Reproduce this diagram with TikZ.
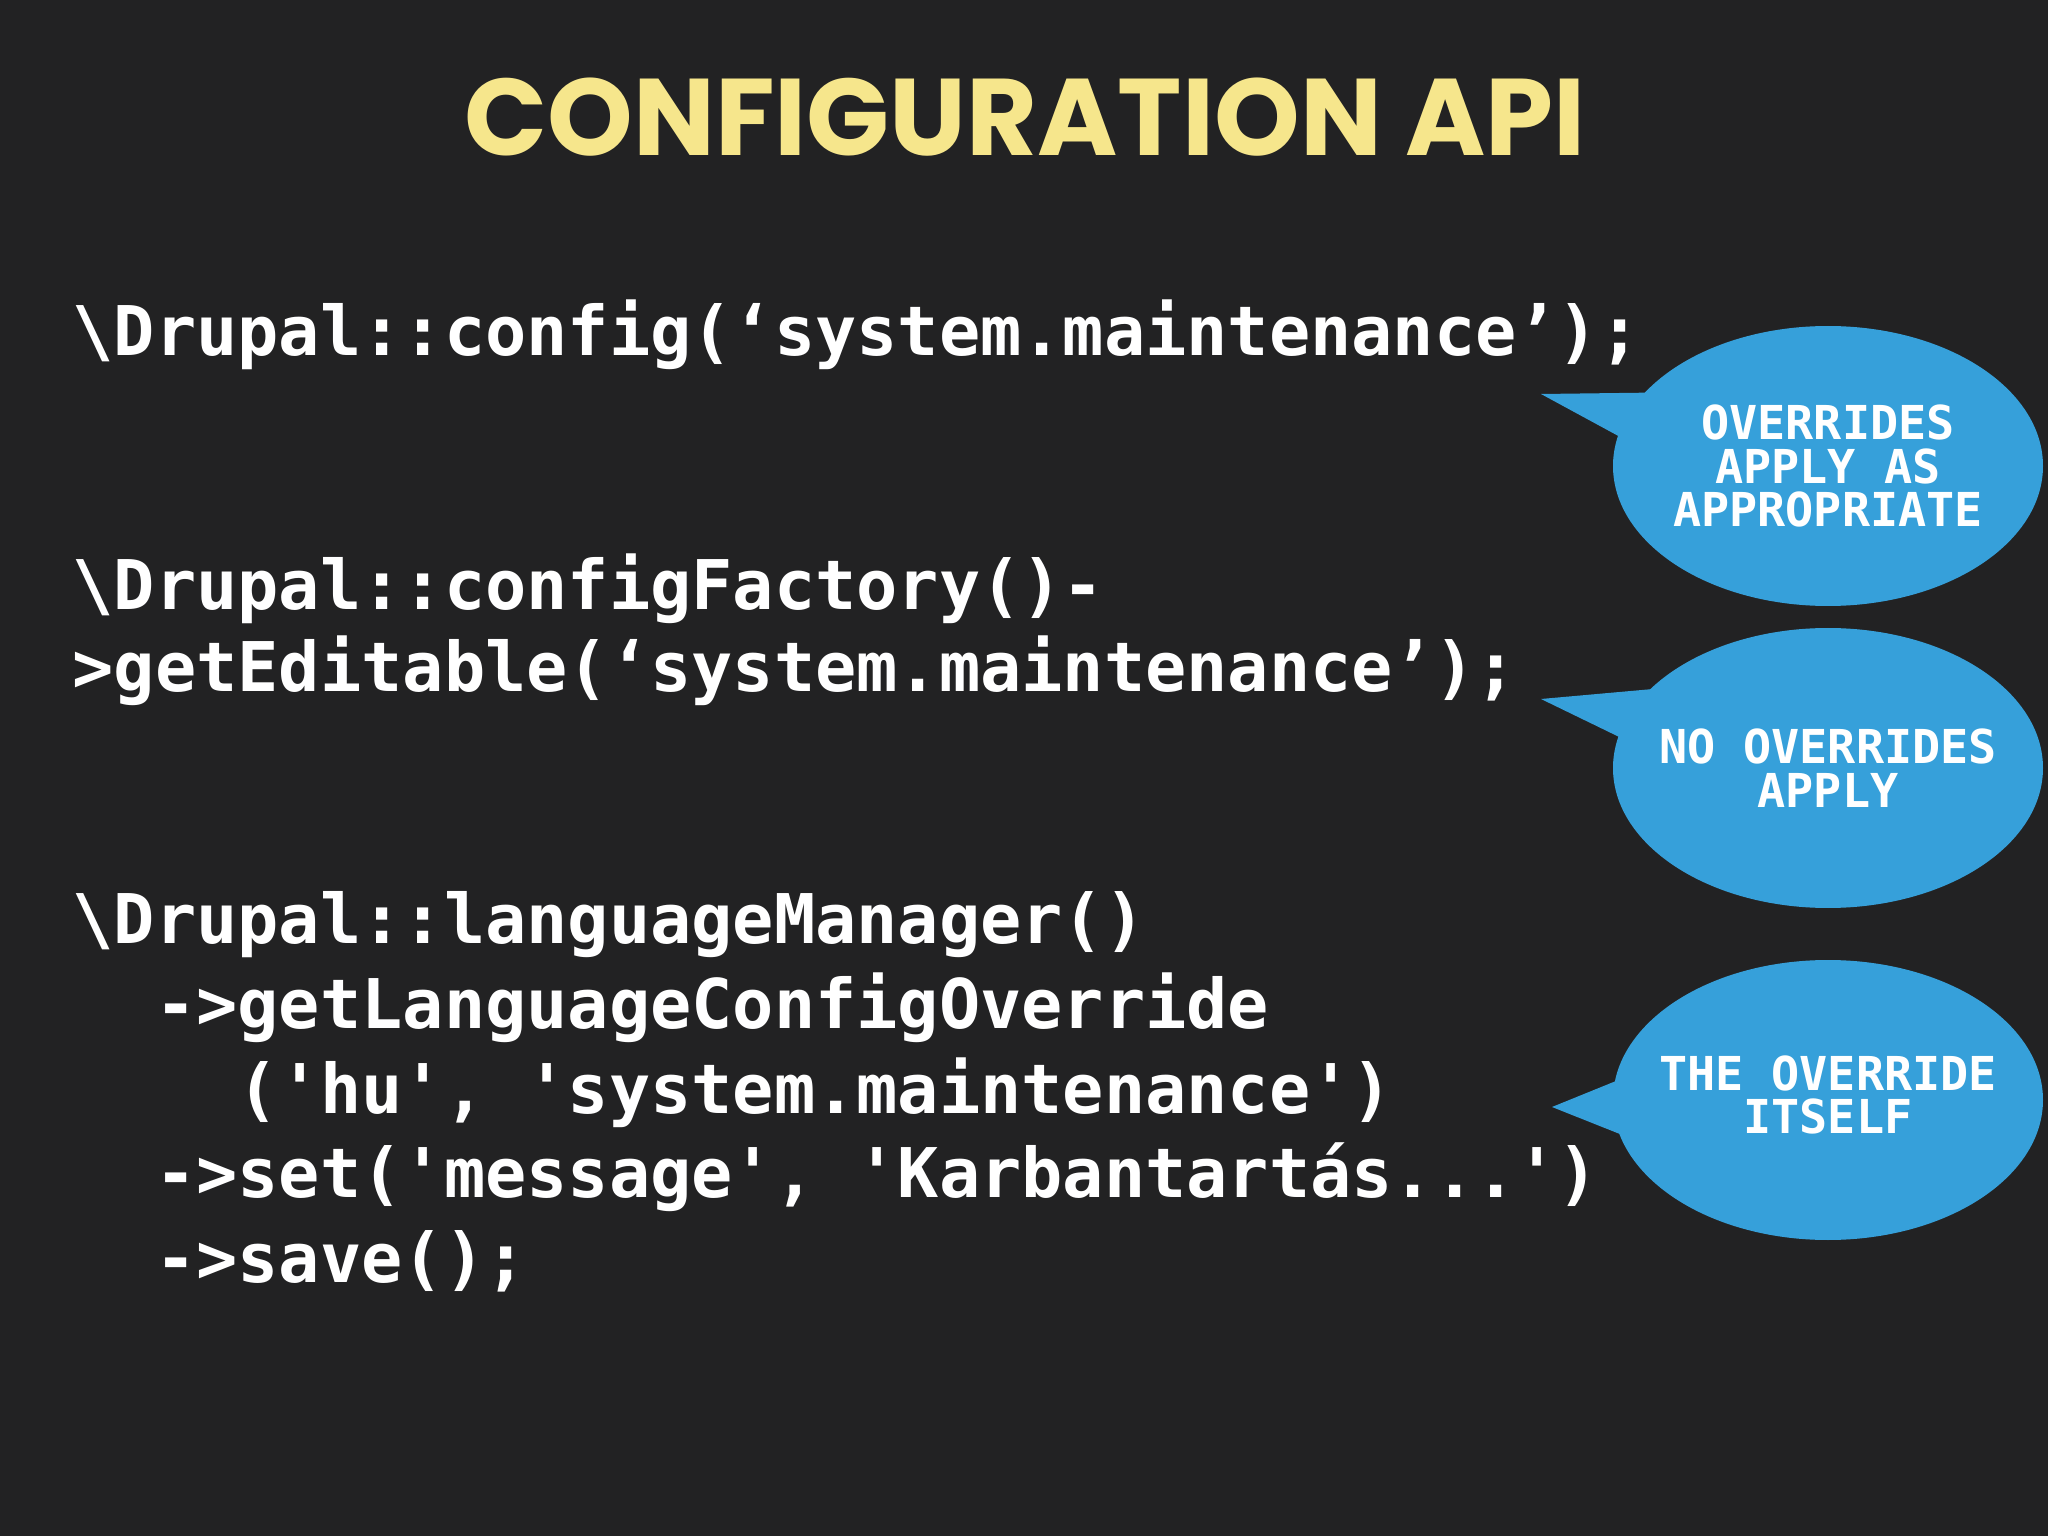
\documentclass[tikz,border=0pt]{standalone}
\usepackage{fontspec}
\setmainfont{Poppins}
\newfontfamily\codefont{DejaVu Sans Mono}
\usetikzlibrary{shapes.geometric}
\definecolor{bg}{HTML}{222223}
\definecolor{ttl}{HTML}{F6E68C}
\definecolor{bub}{HTML}{36A0DA}
\tikzset{
 code/.style={anchor=mid west,text=white,font=\codefont\bfseries\fontsize{19.5}{22}\selectfont,inner sep=0pt},
 bubble/.style={ellipse,fill=bub,minimum width=4.3cm,minimum height=2.8cm,inner sep=0pt},
 btext/.style={text=white,font=\codefont\bfseries\fontsize{13.3}{12.5}\selectfont,align=center},
 tail/.style={fill=bub}
}
\begin{document}
\begin{tikzpicture}[x=1cm,y=1cm]
\fill[bg] (0,0) rectangle (20.48,-15.36);
\useasboundingbox (0,0) rectangle (20.48,-15.36);
\node[text=ttl,font=\bfseries\fontsize{31}{34}\selectfont] (title) at (10.25,-1.17) {CONFIGURATION API};
\node[code] (l1) at (0.72,-3.46) {\textbackslash Drupal::config(‘system.maintenance’);};
\node[code] (l2) at (0.72,-6.0) {\textbackslash Drupal::configFactory()-};
\node[code] (l3) at (0.72,-6.82) {>getEditable(‘system.maintenance’);};
\node[code] (l4) at (0.72,-9.34) {\textbackslash Drupal::languageManager()};
\node[code] (l5) at (0.72,-10.19) {\ \ ->getLanguageConfigOverride};
\node[code] (l6) at (0.72,-11.04) {\ \ \ \ ('hu', 'system.maintenance')};
\node[code] (l7) at (0.72,-11.88) {\ \ ->set('message', 'Karbantartás...')};
\node[code] (l8) at (0.72,-12.73) {\ \ ->save();};
\coordinate (t1) at (15.41,-3.94);
\coordinate (t2) at (15.41,-6.99);
\coordinate (t3) at (15.52,-11.07);
\fill[tail] (t1) -- (16.98,-3.92) -- (16.46,-4.51) -- cycle;
\fill[tail] (t2) -- (16.98,-6.85) -- (16.46,-7.50) -- cycle;
\fill[tail] (t3) -- (16.80,-10.55) -- (16.60,-11.50) -- cycle;
\node[bubble] (b1) at (18.28,-4.66) {};
\node[bubble] (b2) at (18.28,-7.68) {};
\node[bubble] (b3) at (18.28,-11.0) {};
\node[btext] at (b1) {OVERRIDES\\APPLY AS\\APPROPRIATE};
\node[btext] at (b2) {NO OVERRIDES\\APPLY};
\node[btext] at ([yshift=0.05cm]b3) {THE OVERRIDE\\ITSELF};
\end{tikzpicture}
\end{document}
